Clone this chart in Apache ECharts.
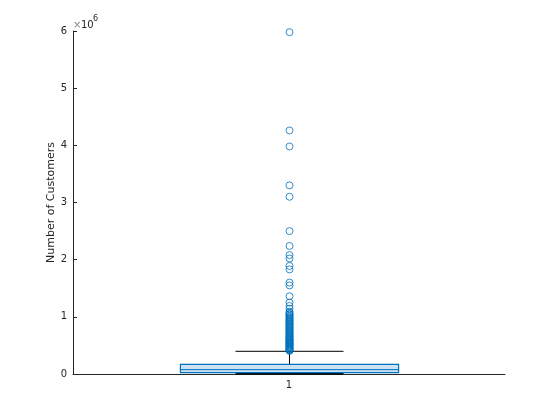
<!DOCTYPE html>
<html>
<head>
<meta charset="utf-8">
<script src="https://cdn.jsdelivr.net/npm/echarts@6/dist/echarts.min.js"></script>
<style>html,body{margin:0;padding:0;background:#fff}#c{width:560px;height:420px}</style>
</head>
<body>
<div id="c"></div>
<script>
const categories = ['1'];
// box stats: [min, q1, median, q3, upper whisker]
const boxStats = [0, 23000, 76000, 169000, 397000];
const outliers = [
  5980000, 4260000, 3980000, 3300000, 3100000, 2500000, 2240000, 2080000, 2020000,
  1890000, 1830000, 1600000, 1550000, 1360000, 1250000, 1190000, 1140000,
  1090000, 1070000, 1050000, 1040000, 1020000, 1000000, 990000, 970000, 960000, 940000,
  930000, 910000, 900000, 880000, 870000, 850000, 840000, 820000, 810000, 800000,
  780000, 770000, 750000, 740000, 730000, 710000, 700000, 690000, 670000, 660000,
  650000, 640000, 620000, 610000, 600000, 590000, 580000, 570000, 560000, 550000,
  540000, 530000, 520000, 510000, 500000, 490000, 480000, 470000, 460000, 450000,
  440000, 430000, 420000, 410000, 405000
];
const yTicks = [0, 1, 2, 3, 4, 5, 6];
const yLabel = 'Number of Customers';

const chart = echarts.init(document.getElementById('c'));
const axisColor = '#262626';
const font = 'DejaVu Sans';

chart.setOption({
  animation: false,
  grid: { left: 73, right: 55, top: 31, bottom: 46 },
  xAxis: {
    type: 'category',
    data: categories,
    boundaryGap: true,
    axisLine: { lineStyle: { color: axisColor, width: 1 } },
    axisTick: { show: true, alignWithLabel: true, inside: true, length: 4, lineStyle: { color: axisColor } },
    axisLabel: { color: axisColor, fontFamily: font, fontSize: 10, margin: 6 },
    splitLine: { show: false }
  },
  yAxis: {
    type: 'value',
    min: 0, max: 6000000, interval: 1000000,
    name: yLabel,
    nameLocation: 'middle',
    nameGap: 16,
    nameMoveOverlap: false,
    nameTextStyle: { color: axisColor, fontFamily: font, fontSize: 11 },
    axisLine: { show: true, lineStyle: { color: axisColor, width: 1 } },
    axisTick: { show: true, inside: true, length: 4, lineStyle: { color: axisColor } },
    axisLabel: {
      color: axisColor, fontFamily: font, fontSize: 10, margin: 6,
      formatter: v => String(yTicks[Math.round(v / 1000000)])
    },
    splitLine: { show: false }
  },
  graphic: [
    { type: 'text', left: 73, top: 20, style: { text: '×', fill: '#8a8a8a', font: '10px DejaVu Sans' } },
    { type: 'text', left: 81, top: 20, style: { text: '10', fill: axisColor, font: '10px DejaVu Sans' } },
    { type: 'text', left: 93, top: 15, style: { text: '6', fill: axisColor, font: '8px DejaVu Sans' } }
  ],
  series: [
    {
      type: 'custom',
      data: [[0].concat(boxStats)],
      renderItem: function (params, api) {
        const idx = api.value(0);
        const band = api.size([1, 0])[0];
        const cx = api.coord([idx, 0])[0] + 0.5;
        const yMin = api.coord([idx, api.value(1)])[1];
        const yQ1 = api.coord([idx, api.value(2)])[1];
        const yMed = api.coord([idx, api.value(3)])[1];
        const yQ3 = api.coord([idx, api.value(4)])[1];
        const yMax = api.coord([idx, api.value(5)])[1];
        const bw = band * 0.505;
        const cw = band * 0.25;
        const black = { stroke: '#000', lineWidth: 1 };
        return {
          type: 'group',
          children: [
            { type: 'line', shape: { x1: cx, y1: yQ3, x2: cx, y2: yMax }, style: black },
            { type: 'line', shape: { x1: cx - cw / 2, y1: yMax, x2: cx + cw / 2, y2: yMax }, style: black },
            { type: 'line', shape: { x1: cx, y1: yMin, x2: cx, y2: yQ1 }, style: black },
            { type: 'line', shape: { x1: cx - cw / 2, y1: yMin - 0.5, x2: cx + cw / 2, y2: yMin - 0.5 }, style: { stroke: '#000', lineWidth: 2 } },
            { type: 'rect', shape: { x: cx - bw / 2, y: yQ3, width: bw, height: yQ1 - yQ3 }, style: { fill: '#cde3f3', stroke: '#0072BD', lineWidth: 1.2 } },
            { type: 'line', shape: { x1: cx - bw / 2, y1: yMed, x2: cx + bw / 2, y2: yMed }, style: { stroke: '#0072BD', lineWidth: 1 } }
          ]
        };
      },
      z: 2
    },
    {
      type: 'scatter',
      data: outliers.map(v => ['1', v]),
      symbol: 'circle',
      symbolSize: 7,
      symbolOffset: [0.5, 0],
      itemStyle: { color: 'rgba(0,0,0,0)', borderColor: '#0072BD', borderWidth: 1 },
      z: 3
    }
  ]
});
</script>
</body>
</html>
